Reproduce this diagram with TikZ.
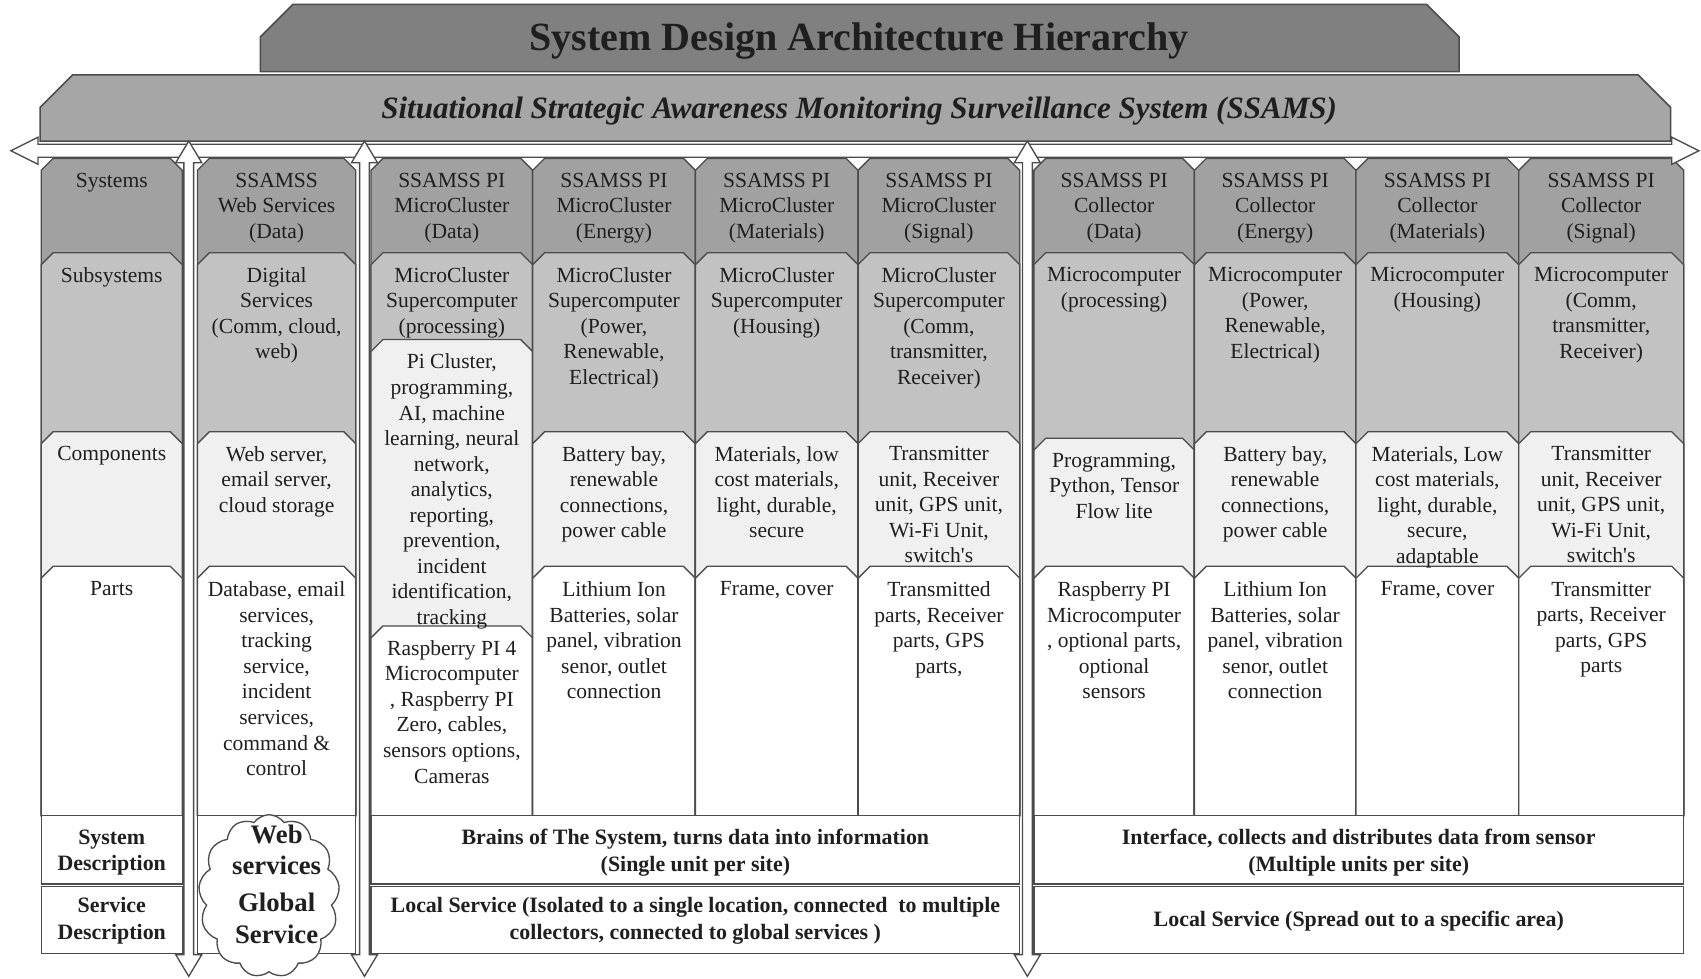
\documentclass[tikz,border=0pt]{standalone}
\usepackage{fontspec}
\setmainfont{Liberation Serif}
\usetikzlibrary{shapes.symbols}
\definecolor{titlegray}{gray}{0.50}
\definecolor{bannergray}{gray}{0.65}
\definecolor{sysgray}{gray}{0.63}
\definecolor{subgray}{gray}{0.76}
\definecolor{compgray}{gray}{0.94}
\definecolor{linegray}{gray}{0.30}
\definecolor{txtgray}{gray}{0.12}
\tikzset{
  cellline/.style={draw=linegray, line width=0.7pt},
  celltxt/.style={anchor=north, align=center, inner sep=0pt, text=txtgray, font=\fontsize{11.3}{13.4}\selectfont},
  desctxt/.style={align=center, inner sep=0pt, text=txtgray, font=\bfseries\fontsize{11.5}{14}\selectfont},
  bigarrow/.style={draw=linegray, fill=white, line width=0.7pt}
}
\newcommand{\tabcell}[5]{%
  \filldraw[cellline, fill=#5] (#1,#4) -- (#1,#3+11) -- (#1+11,#3) -- (#2-11,#3) -- (#2,#3+11) -- (#2,#4) -- cycle;}

\begin{document}
\begin{tikzpicture}[x=0.02cm, y=-0.02cm]
\useasboundingbox (0,0) rectangle (1568,902);

\filldraw[draw=linegray, fill=titlegray, line width=0.8pt] (240,66) -- (240,34) -- (270,4) -- (1315,4) -- (1345,34) -- (1345,66) -- cycle;
\node[text=txtgray, font=\bfseries\fontsize{21}{25}\selectfont] (title) at (792,38) {System Design Architecture Hierarchy};
\filldraw[draw=linegray, fill=bannergray, line width=0.8pt] (37,130) -- (37,99) -- (67,69) -- (1510,69) -- (1540,99) -- (1540,130) -- cycle;
\node[text=txtgray, font=\bfseries\itshape\fontsize{16.3}{19}\selectfont] (banner) at (792,102) {Situational Strategic Awareness Monitoring Surveillance System (SSAMS)};

\tabcell{38}{168}{146}{752}{sysgray}
\tabcell{38}{168}{233}{752}{subgray}
\tabcell{38}{168}{398}{752}{compgray}
\tabcell{38}{168}{522}{752}{white}
\node[celltxt] (lblsys) at (103,159) {Systems};
\node[celltxt] (lblsub) at (103,246) {Subsystems};
\node[celltxt] (lblcomp) at (103,411) {Components};
\node[celltxt] (lblparts) at (103,536) {Parts};

\tabcell{182}{328}{146}{752}{sysgray}
\tabcell{182}{328}{233}{752}{subgray}
\tabcell{182}{328}{398}{752}{compgray}
\tabcell{182}{328}{522}{752}{white}
\node[celltxt] (websys) at (255,159) {SSAMSS\\Web Services\\(Data)};
\node[celltxt] (websub) at (255,246) {Digital\\Services\\(Comm, cloud,\\web)};
\node[celltxt] (webcomp) at (255,411) {Web server,\\email server,\\cloud storage};
\node[celltxt] (webparts) at (255,536) {Database, email\\services,\\tracking\\service,\\incident\\services,\\command \&\\control};

\tabcell{342}{491}{146}{752}{sysgray}
\tabcell{342}{491}{233}{752}{subgray}
\tabcell{342}{491}{313}{752}{compgray}
\tabcell{342}{491}{577}{752}{white}
\node[celltxt] (mcdatasys) at (416.5,159) {SSAMSS PI\\MicroCluster\\(Data)};
\node[celltxt] (mcdatasub) at (416.5,246) {MicroCluster\\Supercomputer\\(processing)};
\node[celltxt] (mcdatacomp) at (416.5,326) {Pi Cluster,\\programming,\\AI, machine\\learning, neural\\network,\\analytics,\\reporting,\\prevention,\\incident\\identification,\\tracking};
\node[celltxt] (mcdataparts) at (416.5,590) {Raspberry PI 4\\Microcomputer\\, Raspberry PI\\Zero, cables,\\sensors options,\\Cameras};

\tabcell{491}{641}{146}{752}{sysgray}
\tabcell{491}{641}{233}{752}{subgray}
\tabcell{491}{641}{398}{752}{compgray}
\tabcell{491}{641}{522}{752}{white}
\node[celltxt] (mcenergysys) at (566,159) {SSAMSS PI\\MicroCluster\\(Energy)};
\node[celltxt] (mcenergysub) at (566,246) {MicroCluster\\Supercomputer\\(Power,\\Renewable,\\Electrical)};
\node[celltxt] (mcenergycomp) at (566,411) {Battery bay,\\renewable\\connections,\\power cable};
\node[celltxt] (mcenergyparts) at (566,536) {Lithium Ion\\Batteries, solar\\panel, vibration\\senor, outlet\\connection};

\tabcell{641}{791}{146}{752}{sysgray}
\tabcell{641}{791}{233}{752}{subgray}
\tabcell{641}{791}{398}{752}{compgray}
\tabcell{641}{791}{522}{752}{white}
\node[celltxt] (mcmatsys) at (716,159) {SSAMSS PI\\MicroCluster\\(Materials)};
\node[celltxt] (mcmatsub) at (716,246) {MicroCluster\\Supercomputer\\(Housing)};
\node[celltxt] (mcmatcomp) at (716,411) {Materials, low\\cost materials,\\light, durable,\\secure};
\node[celltxt] (mcmatparts) at (716,536) {Frame, cover};

\tabcell{791}{940}{146}{752}{sysgray}
\tabcell{791}{940}{233}{752}{subgray}
\tabcell{791}{940}{398}{752}{compgray}
\tabcell{791}{940}{522}{752}{white}
\node[celltxt] (mcsigsys) at (865.5,159) {SSAMSS PI\\MicroCluster\\(Signal)};
\node[celltxt] (mcsigsub) at (865.5,246) {MicroCluster\\Supercomputer\\(Comm,\\transmitter,\\Receiver)};
\node[celltxt] (mcsigcomp) at (865.5,411) {Transmitter\\unit, Receiver\\unit, GPS unit,\\Wi-Fi Unit,\\switch\textquotesingle s};
\node[celltxt] (mcsigparts) at (865.5,536) {Transmitted\\parts, Receiver\\parts, GPS\\parts,};

\tabcell{953}{1101}{146}{752}{sysgray}
\tabcell{953}{1101}{233}{752}{subgray}
\tabcell{953}{1101}{404}{752}{compgray}
\tabcell{953}{1101}{522}{752}{white}
\node[celltxt] (coldatasys) at (1027,159) {SSAMSS PI\\Collector\\(Data)};
\node[celltxt] (coldatasub) at (1027,246) {Microcomputer\\(processing)};
\node[celltxt] (coldatacomp) at (1027,417) {Programming,\\Python, Tensor\\Flow lite};
\node[celltxt] (coldataparts) at (1027,536) {Raspberry PI\\Microcomputer\\, optional parts,\\optional\\sensors};

\tabcell{1101}{1250}{146}{752}{sysgray}
\tabcell{1101}{1250}{233}{752}{subgray}
\tabcell{1101}{1250}{398}{752}{compgray}
\tabcell{1101}{1250}{522}{752}{white}
\node[celltxt] (colenergysys) at (1175.5,159) {SSAMSS PI\\Collector\\(Energy)};
\node[celltxt] (colenergysub) at (1175.5,246) {Microcomputer\\(Power,\\Renewable,\\Electrical)};
\node[celltxt] (colenergycomp) at (1175.5,411) {Battery bay,\\renewable\\connections,\\power cable};
\node[celltxt] (colenergyparts) at (1175.5,536) {Lithium Ion\\Batteries, solar\\panel, vibration\\senor, outlet\\connection};

\tabcell{1250}{1400}{146}{752}{sysgray}
\tabcell{1250}{1400}{233}{752}{subgray}
\tabcell{1250}{1400}{398}{752}{compgray}
\tabcell{1250}{1400}{522}{752}{white}
\node[celltxt] (colmatsys) at (1325,159) {SSAMSS PI\\Collector\\(Materials)};
\node[celltxt] (colmatsub) at (1325,246) {Microcomputer\\(Housing)};
\node[celltxt] (colmatcomp) at (1325,411) {Materials, Low\\cost materials,\\light, durable,\\secure,\\adaptable};
\node[celltxt] (colmatparts) at (1325,536) {Frame, cover};

\tabcell{1400}{1552}{146}{752}{sysgray}
\tabcell{1400}{1552}{233}{752}{subgray}
\tabcell{1400}{1552}{398}{752}{compgray}
\tabcell{1400}{1552}{522}{752}{white}
\node[celltxt] (colsigsys) at (1476,159) {SSAMSS PI\\Collector\\(Signal)};
\node[celltxt] (colsigsub) at (1476,246) {Microcomputer\\(Comm,\\transmitter,\\Receiver)};
\node[celltxt] (colsigcomp) at (1476,411) {Transmitter\\unit, Receiver\\unit, GPS unit,\\Wi-Fi Unit,\\switch\textquotesingle s};
\node[celltxt] (colsigparts) at (1476,536) {Transmitter\\parts, Receiver\\parts, GPS\\parts};

\draw[cellline, fill=white] (38,752) rectangle (168,815);
\draw[cellline, fill=white] (38,817) rectangle (168,879);
\node[desctxt] (lblsysdesc) at (103,786) {System\\Description};
\node[desctxt] (lblservdesc) at (103,849) {Service\\Description};
\draw[cellline, fill=white] (342,752) rectangle (940,815);
\draw[cellline, fill=white] (342,817) rectangle (940,879);
\node[desctxt] (mcsysdesc) at (641,786) {Brains of The System, turns data into information\\(Single unit per site)};
\node[desctxt] (mcservdesc) at (641,849) {Local Service (Isolated to a single location, connected\ \ to multiple\\collectors, connected to global services )};
\draw[cellline, fill=white] (953,752) rectangle (1552,815);
\draw[cellline, fill=white] (953,817) rectangle (1552,879);
\node[desctxt] (colsysdesc) at (1252.5,786) {Interface, collects and distributes data from sensor\\(Multiple units per site)};
\node[desctxt] (colservdesc) at (1252.5,849) {Local Service (Spread out to a specific area)};
\draw[cellline, fill=white] (182,752) rectangle (328,879);
\node[cloud, draw=linegray, fill=white, line width=0.7pt, cloud puffs=13, cloud puff arc=110, minimum width=2.6cm, minimum height=3cm, inner sep=0pt] (cloud) at (248,826) {};
\node[align=center, inner sep=0pt, text=txtgray, font=\bfseries\fontsize{14}{16.5}\selectfont] (cloudtxt) at (255,815) {Web\\services\\[3pt]Global\\Service};

\filldraw[bigarrow] (10,139) -- (35,126.5) -- (35,133) -- (1541,133) -- (1541,126.5) -- (1566,139) -- (1541,151.5) -- (1541,145) -- (35,145) -- (35,151.5) -- cycle;
\filldraw[bigarrow] (174,130) -- (186,150) -- (178.5,150) -- (178.5,880) -- (186,880) -- (174,900) -- (162,880) -- (169.5,880) -- (169.5,150) -- (162,150) -- cycle;
\filldraw[bigarrow] (336,130) -- (348,150) -- (340.5,150) -- (340.5,880) -- (348,880) -- (336,900) -- (324,880) -- (331.5,880) -- (331.5,150) -- (324,150) -- cycle;
\filldraw[bigarrow] (947,130) -- (959,150) -- (951.5,150) -- (951.5,880) -- (959,880) -- (947,900) -- (935,880) -- (942.5,880) -- (942.5,150) -- (935,150) -- cycle;
\end{tikzpicture}
\end{document}
